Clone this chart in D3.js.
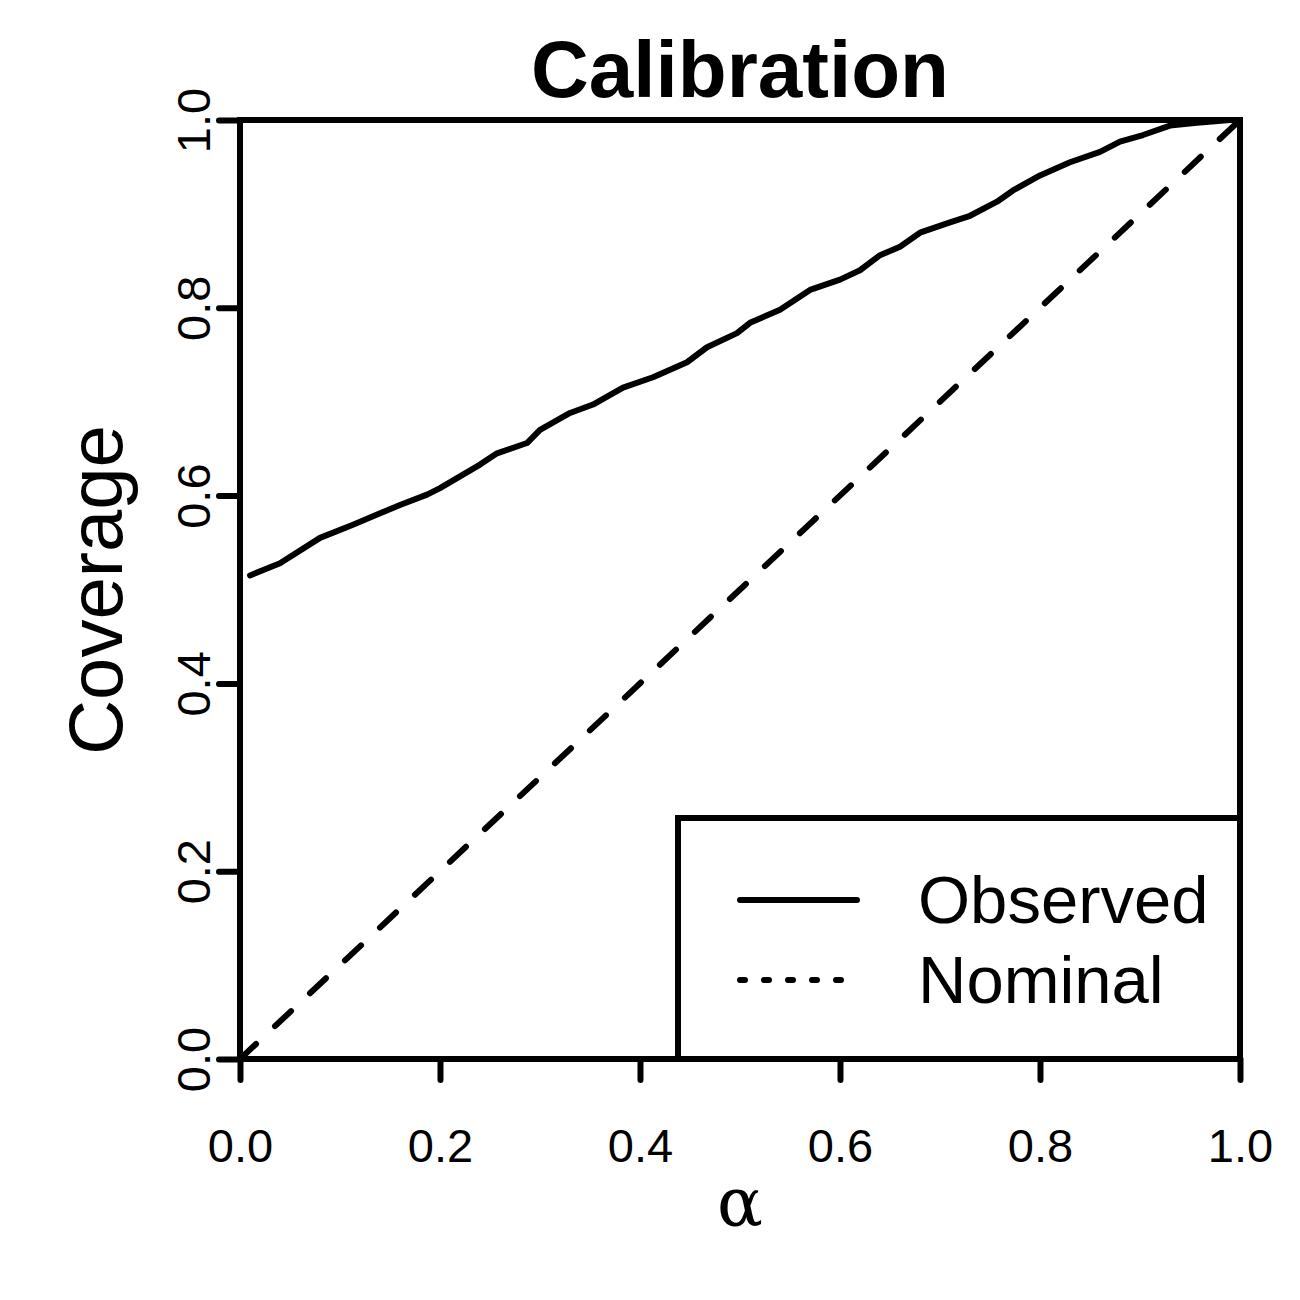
<!DOCTYPE html>
<html>
<head>
  <meta charset="UTF-8">
  <style>
    body { margin: 0; background: white; }
    text { font-family: "Liberation Sans", Arial, sans-serif; fill: black; }
  </style>
</head>
<body>
<svg></svg>
<script src="https://d3js.org/d3.v7.min.js"></script>
<script>

// observed coverage
let alphaVals = [0.01, 0.04, 0.08, 0.113, 0.133, 0.16, 0.187, 0.20, 0.24, 0.257,
                 0.287, 0.30, 0.33, 0.353, 0.383, 0.413, 0.447, 0.467, 0.497, 0.51,
                 0.54, 0.57, 0.60, 0.62, 0.64, 0.66, 0.68, 0.71, 0.73, 0.757,
                 0.773, 0.80, 0.83, 0.86, 0.88, 0.903, 0.93, 0.957, 0.99];
let coverageVals = [0.515, 0.528, 0.555, 0.569, 0.578, 0.590, 0.601, 0.608, 0.633, 0.645,
                    0.656, 0.670, 0.688, 0.697, 0.715, 0.726, 0.742, 0.758, 0.773, 0.784,
                    0.798, 0.819, 0.830, 0.840, 0.856, 0.865, 0.880, 0.891, 0.898, 0.913,
                    0.925, 0.941, 0.955, 0.966, 0.977, 0.984, 0.994, 0.997, 1.0];
let nominalVals = [0, 1];
let tickVals = [0, 0.2, 0.4, 0.6, 0.8, 1.0];
let legendLabels = ["Observed", "Nominal"];

let width = 1300, height = 1300;
let lw = 6;

let svg = d3.select("svg")
    .attr("width", width)
    .attr("height", height);

let x = d3.scaleLinear().domain([0, 1]).range([240, 1240]);
let y = d3.scaleLinear().domain([0, 1]).range([1059, 120]);

// nominal diagonal
svg.append("path")
    .datum(nominalVals)
    .attr("d", d3.line().x(d => x(d)).y(d => y(d)))
    .attr("fill", "none")
    .attr("stroke", "black")
    .attr("stroke-width", lw)
    .attr("stroke-linecap", "round")
    .attr("stroke-dasharray", "22,26");

// observed curve
let obs = alphaVals.map((a, i) => [a, coverageVals[i]]);
svg.append("path")
    .datum(obs)
    .attr("d", d3.line().x(d => x(d[0])).y(d => y(d[1])))
    .attr("fill", "none")
    .attr("stroke", "black")
    .attr("stroke-width", lw)
    .attr("stroke-linejoin", "round")
    .attr("stroke-linecap", "round");

// axes
let xAxis = svg.append("g")
    .attr("transform", `translate(0, ${y(0)})`)
    .call(d3.axisBottom(x).tickValues(tickVals).tickFormat(d3.format(".1f"))
      .tickSize(21).tickPadding(30));
let yAxis = svg.append("g")
    .attr("transform", `translate(${x(0)}, 0)`)
    .call(d3.axisLeft(y).tickValues(tickVals).tickFormat(d3.format(".1f"))
      .tickSize(21).tickPadding(10));

[xAxis, yAxis].forEach(g => {
  g.select(".domain").remove();
  g.selectAll("line").attr("stroke", "black").attr("stroke-width", lw).attr("stroke-linecap", "round");
  g.selectAll("text").style("font-family", "Liberation Sans, Arial, sans-serif").attr("font-size", 47).attr("fill", "black");
});

xAxis.selectAll("text").attr("dy", null).attr("y", 103);
yAxis.selectAll("text")
    .attr("x", null).attr("dy", null)
    .attr("text-anchor", "middle")
    .attr("transform", "translate(-30, 0) rotate(-90)")
    .attr("y", 0);

// legend
let legend = svg.append("g");
legend.append("rect")
    .attr("x", 678).attr("y", 818)
    .attr("width", x(1) - 678).attr("height", y(0) - 818)
    .attr("fill", "white")
    .attr("stroke", "black")
    .attr("stroke-width", lw);

let legRows = legend.selectAll("g.row")
    .data(legendLabels)
    .enter().append("g")
    .attr("class", "row")
    .attr("transform", (d, i) => `translate(0, ${900 + i * 80})`);

legRows.append("line")
    .attr("x1", 740).attr("x2", (d, i) => i == 0 ? 857 : 845)
    .attr("y1", 0).attr("y2", 0)
    .attr("stroke", "black")
    .attr("stroke-width", lw)
    .attr("stroke-linecap", "round")
    .attr("stroke-dasharray", (d, i) => i == 0 ? null : "5,19");

legRows.append("text")
    .attr("x", 918).attr("y", 23)
    .attr("font-size", 67)
    .text(d => d);

// frame
svg.append("rect")
    .attr("x", x(0)).attr("y", y(1))
    .attr("width", x(1) - x(0)).attr("height", y(0) - y(1))
    .attr("fill", "none")
    .attr("stroke", "black")
    .attr("stroke-width", lw);

// titles
svg.append("text")
    .attr("x", 740).attr("y", 97)
    .attr("text-anchor", "middle")
    .attr("font-size", 80)
    .attr("font-weight", "bold")
    .text("Calibration");

svg.append("text")
    .attr("transform", "translate(122, 590) rotate(-90)")
    .attr("text-anchor", "middle")
    .attr("font-size", 76)
    .text("Coverage");

svg.append("text")
    .attr("x", 740).attr("y", 1226)
    .attr("text-anchor", "middle")
    .attr("font-size", 68)
    .style("font-family", "DejaVu Serif, Liberation Serif, serif")
    .text("α");

</script>
</body>
</html>
